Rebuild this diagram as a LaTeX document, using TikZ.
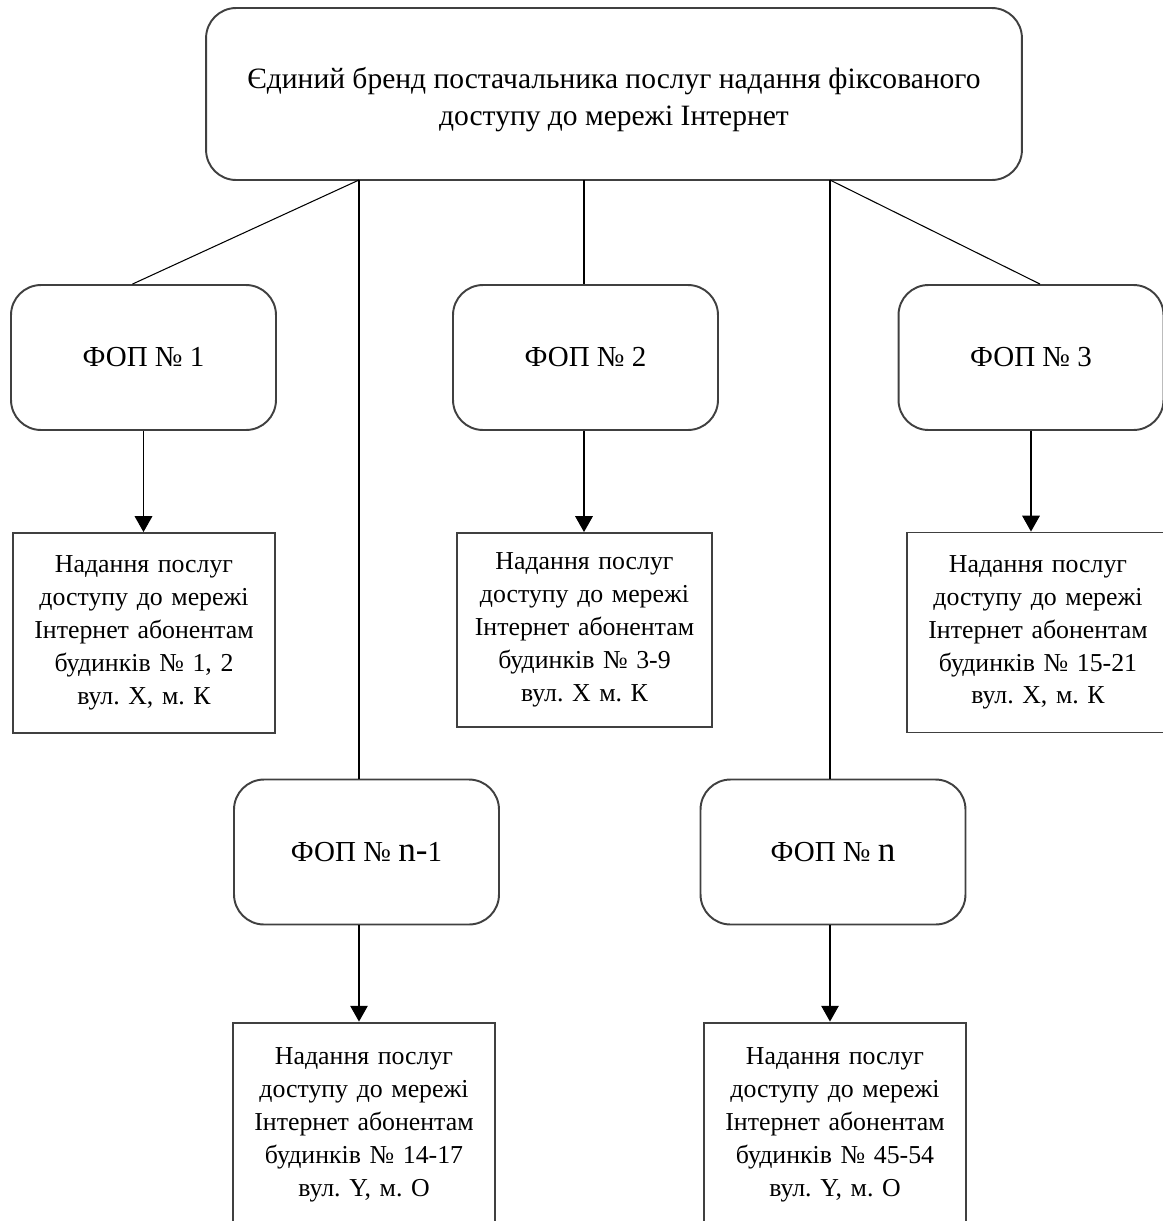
\documentclass[tikz,border=0pt]{standalone}
\usepackage{fontspec}
\setmainfont{Liberation Serif}
\usepackage{tikz}
\usetikzlibrary{shapes,arrows,positioning,arrows.meta}

\tikzset{
  brandbox/.style={draw=black!75, line width=1.1pt, rounded corners=0.6cm,
    minimum width=16.32cm, minimum height=3.44cm, align=center,
    font=\fontsize{16.8}{21.5}\selectfont},
  fopbox/.style={draw=black!75, line width=1.1pt, rounded corners=0.6cm,
    minimum width=5.3cm, minimum height=2.9cm, align=center,
    font=\fontsize{16.5}{19}\selectfont},
  srvbox/.style={draw=black!75, line width=1.1pt, minimum width=5.24cm,
    minimum height=4cm, text width=5cm, align=center, inner sep=0pt,
    font=\fontsize{14.7}{18.7}\selectfont},
  link/.style={line width=0.6pt},
  arr/.style={line width=0.6pt, -{Triangle[length=9pt,width=10pt]}}
}

\newcommand{\nbig}[1]{{\fontsize{20}{20}\selectfont #1}}
\frenchspacing

\begin{document}
\begin{tikzpicture}[x=0.02cm,y=-0.02cm]
        % Рамка сторінки
        \useasboundingbox (0,0) rectangle (1163,1221);
        % Бренд постачальника
        \node[brandbox] (brand) at (614,94)
            {\\[-3pt]Єдиний бренд постачальника послуг надання фіксованого\\доступу до мережі Інтернет};
        % Точки розгалуження
        \coordinate (jl) at (359,180);
        \coordinate (jm) at (584,180);
        \coordinate (jr) at (830,180);
        % ФОП
        \node[fopbox] (fop1) at (143.5,357.5) {ФОП № 1};
        \node[fopbox] (fop2) at (585.5,357.5) {ФОП № 2};
        \node[fopbox] (fop3) at (1031,357.5) {ФОП № 3};
        \node[fopbox] (fopm) at (366.5,852) {ФОП № \nbig{n-}1};
        \node[fopbox] (fopn) at (833,852) {ФОП № \nbig{n}};
        % Послуги
        \node[srvbox] (srv1) at (144,633)
            {Надання послуг\\доступу до мережі\\Інтернет абонентам\\будинків № 1, 2\\вул. X, м. К};
        \node[srvbox, minimum width=5.1cm, minimum height=3.88cm] (srv2) at (584.5,630)
            {Надання послуг\\доступу до мережі\\Інтернет абонентам\\будинків № 3-9\\вул. X м. К};
        \node[srvbox] (srv3) at (1038,632.5)
            {Надання послуг\\доступу до мережі\\Інтернет абонентам\\будинків № 15-21\\вул. X, м. К};
        \node[srvbox, minimum height=4.1cm] (srvm) at (364,1125)
            {Надання послуг\\доступу до мережі\\Інтернет абонентам\\будинків № 14-17\\вул. Y, м. O};
        \node[srvbox, minimum height=4.1cm] (srvn) at (835,1125)
            {Надання послуг\\доступу до мережі\\Інтернет абонентам\\будинків № 45-54\\вул. Y, м. O};
        % Зв'язки
        \draw[link] (jl) -- ([xshift=-0.22cm]fop1.north);
        \draw[link] (jl) -- (jl |- fopm.north);
        \draw[link] (jm) -- (jm |- fop2.north);
        \draw[link] (jr) -- (jr |- fopn.north);
        \draw[link] (jr) -- ([xshift=0.18cm]fop3.north);
        % Стрілки
        \draw[arr] (fop1.south) -- (fop1.south |- srv1.north);
        \draw[arr] (jm |- fop2.south) -- (jm |- srv2.north);
        \draw[arr] (fop3.south) -- (fop3.south |- srv3.north);
        \draw[arr] (jl |- fopm.south) -- (jl |- srvm.north);
        \draw[arr] (jr |- fopn.south) -- (jr |- srvn.north);
\end{tikzpicture}
\end{document}
